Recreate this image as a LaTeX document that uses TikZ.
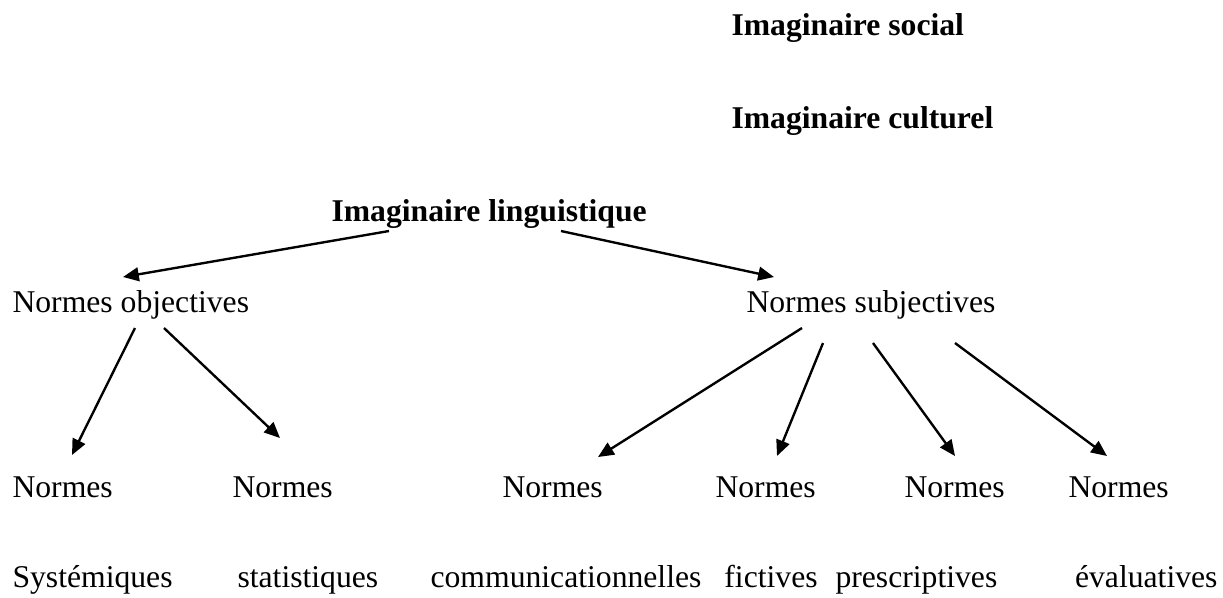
\documentclass[tikz,border=0pt]{standalone}
\usepackage{fontspec}
\setmainfont{Liberation Serif}
\usetikzlibrary{arrows.meta,calc}

\begin{document}
\begin{tikzpicture}[x=0.379pt,y=-0.379pt,
        arr/.style={-{Triangle[length=6pt,width=5.2pt]},line width=0.9pt},
        every node/.style={inner sep=0pt,anchor=base west,
                font=\fontsize{12}{14}\selectfont}]
        \useasboundingbox (0,0) rectangle (1223,597);

        \begin{scope}[every node/.style={inner sep=0pt,anchor=base west,
                        font=\fontsize{12}{14}\selectfont\bfseries}]
            \node (soc) at (731,35) {Imaginaire social};
            \node (cult) at (731,128) {Imaginaire culturel};
            \node (ling) at (331,221) {Imaginaire linguistique};
        \end{scope}

        \node (obj) at (12,312) {Normes objectives};
        \node (subj) at (746,312) {Normes subjectives};

        \node (n1) at (12,497) {Normes};
        \node (n2) at (232,497) {Normes};
        \node (n3) at (502,497) {Normes};
        \node (n4) at (715,497) {Normes};
        \node (n5) at (904,497) {Normes};
        \node (n6) at (1068,497) {Normes};

        \node (sys) at (12,587) {Systémiques};
        \node (stat) at (237,587) {statistiques};
        \node[anchor=base] (comm) at (566,587) {communicationnelles};
        \node[anchor=base] (fict) at (771,587) {fictives};
        \node (presc) at (835,587) {prescriptives};
        \node[anchor=base east] (eval) at (1218,587) {évaluatives};

        \draw[arr] ($(ling.base west)+(58,10)$) -- ($(obj.base west)+(111,-35)$);
        \draw[arr] ($(ling.base west)+(230,10)$) -- ($(subj.base west)+(28,-35)$);

        \draw[arr] ($(obj.base west)+(123,16)$) -- ($(n1.base west)+(60,-42)$);
        \draw[arr] ($(obj.base west)+(152,16)$) -- ($(n2.base west)+(48,-59)$);

        \draw[arr] ($(subj.base west)+(56,16)$) -- ($(n3.base west)+(96,-40)$);
        \draw[arr] ($(subj.base west)+(77,31)$) -- ($(n4.base west)+(62,-41)$);
        \draw[arr] ($(subj.base west)+(127,31)$) -- ($(n5.base west)+(51,-41)$);
        \draw[arr] ($(subj.base west)+(209,31)$) -- ($(n6.base west)+(39,-41)$);
\end{tikzpicture}
\end{document}
